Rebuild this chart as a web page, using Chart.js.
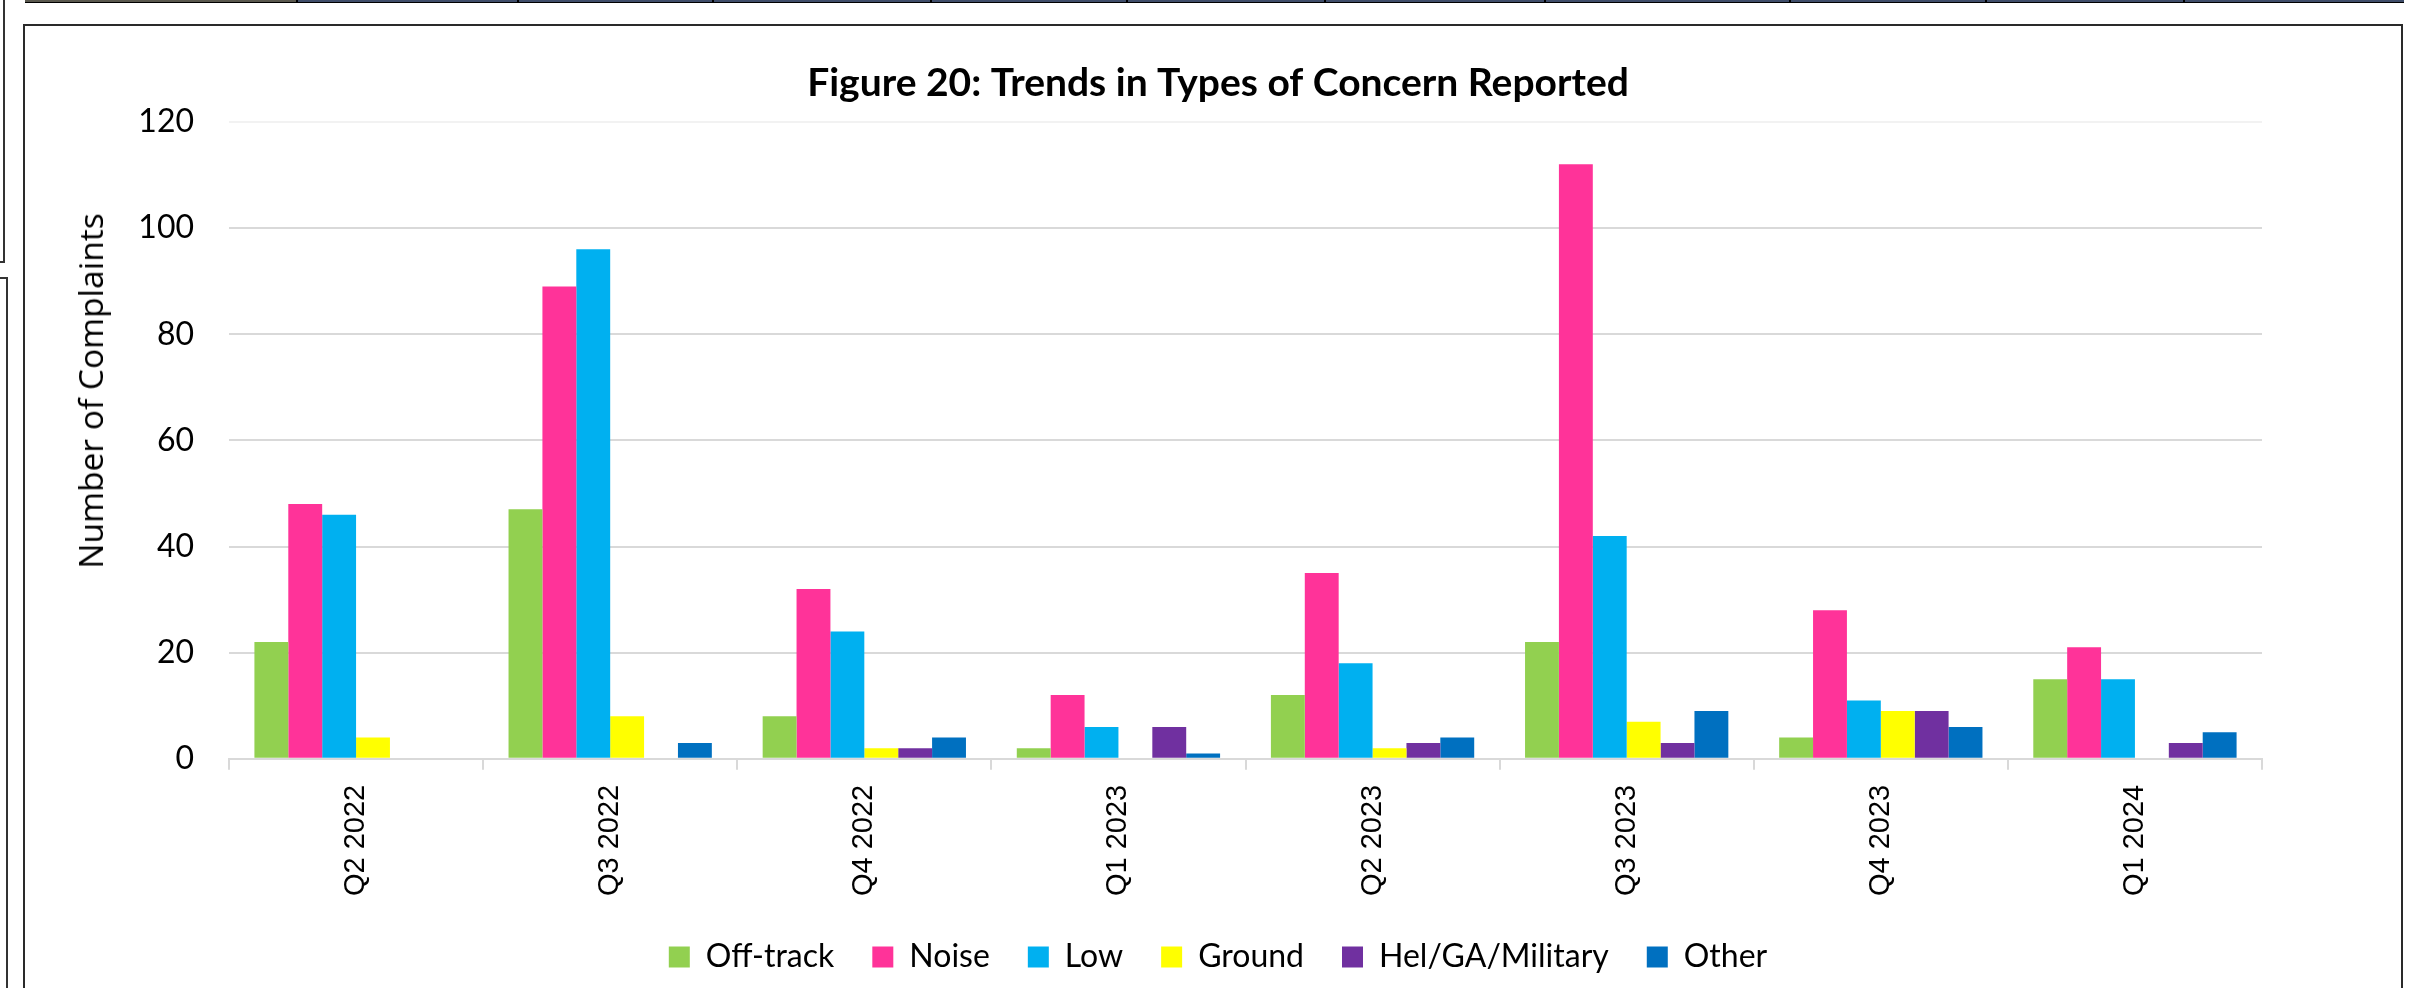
<!DOCTYPE html>
<html>
<head>
<meta charset="utf-8">
<script src="https://cdn.jsdelivr.net/npm/chart.js@4.4.1/dist/chart.umd.min.js"></script>
<style>
  html, body { margin: 0; padding: 0; background: #ffffff; width: 2428px; height: 988px; overflow: hidden; position: relative; }
  .abs { position: absolute; }
  #ytitle { position: absolute; left: 90px; top: 391px; transform: translate(-50%, -50%) rotate(-90deg);
            font-family: 'Open Sans', sans-serif; font-size: 33.5px; color: #000; white-space: nowrap; }
</style>
</head>
<body>
<!-- surrounding document frame -->
<div class="abs" style="left:25px;top:0;width:272px;height:2px;background:#5a584e;"></div>
<div class="abs" style="left:297px;top:0;width:2107px;height:2px;background:#3f4d6a;"></div>
<div class="abs" style="left:25px;top:2px;width:2379px;height:1px;background:#000;"></div>
<div id="seps"></div>
<div class="abs" style="left:23px;top:24px;width:2380px;height:1000px;box-sizing:border-box;border:2px solid #2a2a2a;"></div>
<div class="abs" style="left:3px;top:0;width:2px;height:263px;background:#333;"></div>
<div class="abs" style="left:0;top:261px;width:5px;height:2px;background:#333;"></div>
<div class="abs" style="left:6px;top:277px;width:2px;height:711px;background:#333;"></div>
<div class="abs" style="left:0;top:277px;width:8px;height:2px;background:#333;"></div>

<canvas id="c" width="2428" height="988" style="position:absolute;left:0;top:0;"></canvas>
<div id="ytitle">Number of Complaints</div>

<script>
// ---- data ----
const categories = ['Q2 2022', 'Q3 2022', 'Q4 2022', 'Q1 2023', 'Q2 2023', 'Q3 2023', 'Q4 2023', 'Q1 2024'];
const offTrack = [22, 47, 8, 2, 12, 22, 4, 15];
const noise    = [48, 89, 32, 12, 35, 112, 28, 21];
const low      = [46, 96, 24, 6, 18, 42, 11, 15];
const ground   = [4, 8, 2, 0, 2, 7, 9, 0];
const helGA    = [0, 0, 2, 6, 3, 3, 9, 3];
const other    = [0, 3, 4, 1, 4, 9, 6, 5];
const seriesNames = ['Off-track', 'Noise', 'Low', 'Ground', 'Hel/GA/Military', 'Other'];
const yMin = 0, yMax = 120, yStep = 20;
const chartTitle = 'Figure 20: Trends in Types of Concern Reported';

// table separators above the chart box
const sepX = [296, 517, 712, 930, 1126, 1324, 1544, 1789, 1985, 2183];
const sepHost = document.getElementById('seps');
sepX.forEach(x => {
  const d = document.createElement('div');
  d.className = 'abs';
  d.style.cssText = 'left:' + x + 'px;top:0;width:2px;height:3px;background:#000;';
  sepHost.appendChild(d);
});

const colors = ['#92D050', '#FF3399', '#00B0F0', '#FFFF00', '#7030A0', '#0070C0'];
const values = [offTrack, noise, low, ground, helGA, other];

const datasets = seriesNames.map((name, i) => ({
  label: name,
  data: values[i],
  backgroundColor: colors[i],
  borderWidth: 0,
  categoryPercentage: 0.8,
  barPercentage: 1.0
}));

new Chart(document.getElementById('c'), {
  type: 'bar',
  data: { labels: categories, datasets: datasets },
  options: {
    responsive: false,
    animation: false,
    devicePixelRatio: 1,
    layout: { padding: { left: 20, right: 12, top: 0, bottom: 5 } },
    plugins: {
      title: {
        display: true,
        text: chartTitle,
        color: '#000',
        font: { family: 'Lato', size: 39, weight: 'bold', lineHeight: 1.2 },
        padding: { top: 60, bottom: 15.1 }
      },
      legend: {
        position: 'bottom',
        labels: {
          color: '#000',
          font: { family: 'Lato', size: 32 },
          boxWidth: 21,
          boxHeight: 21,
          padding: 38
        }
      },
      tooltip: { enabled: false }
    },
    scales: {
      x: {
        grid: { display: true, drawOnChartArea: false, drawTicks: true, tickLength: 11, color: '#d9d9d9', lineWidth: 2, offset: true },
        border: { display: true, color: '#d9d9d9', width: 2 },
        ticks: {
          color: '#000',
          font: { family: 'Liberation Sans', size: 29 },
          minRotation: 90, maxRotation: 90, autoSkip: false, padding: 15
        },
        afterFit: (s) => { s.height = 144.2; }
      },
      y: {
        min: yMin, max: yMax,
        grid: {
          drawTicks: false,
          lineWidth: 2,
          color: (ctx) => (ctx.tick && ctx.tick.value === yMax) ? '#f2f2f2' : '#d9d9d9'
        },
        border: { display: false },
        ticks: { stepSize: yStep, color: '#000', font: { family: 'Lato', size: 32 }, padding: 35 },
        afterFit: (s) => { s.width = 209; }
      },
      y2: {
        position: 'right',
        display: true,
        grid: { display: false },
        border: { display: false },
        ticks: { display: false },
        afterFit: (s) => { s.width = 154; }
      }
    }
  }
});
</script>
</body>
</html>
